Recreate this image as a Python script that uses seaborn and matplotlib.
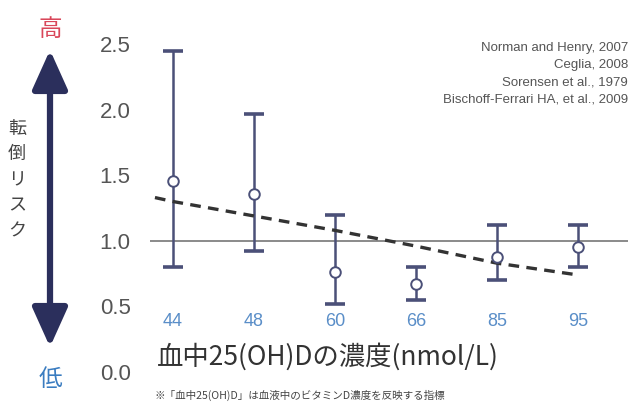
import matplotlib
matplotlib.use("Agg")
import matplotlib.pyplot as plt
from matplotlib import font_manager
import numpy as np
import pandas as pd
import seaborn as sns

# data
levels = ["44", "48", "60", "66", "85", "95"]
risk = [1.46, 1.36, 0.76, 0.67, 0.88, 0.95]
risk_low = [0.80, 0.92, 0.52, 0.55, 0.70, 0.80]
risk_high = [2.45, 1.97, 1.20, 0.80, 1.12, 1.12]
trend_pos = [-0.22, 0, 1, 2, 3, 4, 5]
trend_val = [1.33, 1.30, 1.19, 1.08, 0.96, 0.83, 0.74]
y_ticks = [0.0, 0.5, 1.0, 1.5, 2.0, 2.5]
sources = ["Norman and Henry, 2007", "Ceglia, 2008",
           "Sorensen et al., 1979", "Bischoff-Ferrari HA, et al., 2009"]

sns.set_theme(style="white")
names = {f.name for f in font_manager.fontManager.ttflist}
narrow = "Liberation Sans Narrow" if "Liberation Sans Narrow" in names else "Liberation Sans"
plt.rcParams["font.family"] = [narrow, "Noto Sans CJK JP", "DejaVu Sans"]
jp = ["Noto Sans CJK JP", "DejaVu Sans"]

df = pd.DataFrame({"pos": np.arange(len(levels)), "risk": risk,
                   "low": risk_low, "high": risk_high})
trend = pd.DataFrame({"pos": trend_pos, "val": trend_val})

fig = plt.figure(figsize=(6.28, 4.05), dpi=100)
ax = fig.add_axes([0.239, 0.0815, 0.761, 0.842])

navy = "#4b5078"
ax.axhline(1.0, color="#8a8a8a", lw=1.4, zorder=1)
ax.errorbar(df["pos"], df["risk"],
            yerr=[df["risk"] - df["low"], df["high"] - df["risk"]],
            fmt="none", ecolor=navy, elinewidth=1.8, capsize=7, capthick=2.6, zorder=2)
sns.lineplot(data=trend, x="pos", y="val", ax=ax, color="#333333", lw=2.4,
             linestyle=(0, (3.2, 2.2)), zorder=3)
sns.scatterplot(data=df, x="pos", y="risk", ax=ax, marker="o", s=58,
                facecolor="white", edgecolor=navy, linewidth=1.4, zorder=4)

ax.set_xlim(-0.28, 5.62)
ax.set_ylim(0, 2.6)
ax.set_yticks(y_ticks)
ax.set_yticklabels([f"{v:.1f}" for v in y_ticks])
ax.set_xticks([])
ax.tick_params(axis="y", length=0, pad=14, labelsize=16, labelcolor="#555555")
ax.set_xlabel("")
ax.set_ylabel("")
sns.despine(ax=ax, left=True, bottom=True)

for i, lab in enumerate(levels):
    ax.text(i, 0.385, lab, ha="center", va="center", fontsize=13, color="#5a8ec8")

for k, s in enumerate(sources):
    fig.text(1.0, 1 - (48 + 17.3 * k) / 405, s, ha="right", va="center",
             fontsize=9.5, color="#555555")

fig.text(157 / 628, 1 - 357 / 405, "血中25(OH)Dの濃度(nmol/L)", ha="left", va="center",
         fontsize=19, color="#333333", family=jp)
fig.text(155 / 628, 1 - 395 / 405, "※「血中25(OH)D」は血液中のビタミンD濃度を反映する指標",
         ha="left", va="center", fontsize=7.6, color="#444444", family=jp)

# risk arrow on the left
ax.annotate("", xy=(50, 405 - 50), xytext=(50, 405 - 347), xycoords="figure pixels",
            textcoords="figure pixels",
            arrowprops=dict(arrowstyle="<|-|>,head_length=2.0,head_width=0.9",
                            color="#2b2f5c", lw=4.5, shrinkA=0, shrinkB=0))
fig.text(50 / 628, 1 - 30 / 405, "高", ha="center", va="center", fontsize=17,
         color="#d9475a", family=jp)
fig.text(50 / 628, 1 - 380 / 405, "低", ha="center", va="center", fontsize=17,
         color="#3a7cc0", family=jp)
fig.text(17 / 628, 1 - 180 / 405, "転\n倒\nリ\nス\nク", ha="center", va="center",
         fontsize=13, color="#444444", family=jp, linespacing=1.55)

fig.savefig("out.png", dpi=100, facecolor="white")
